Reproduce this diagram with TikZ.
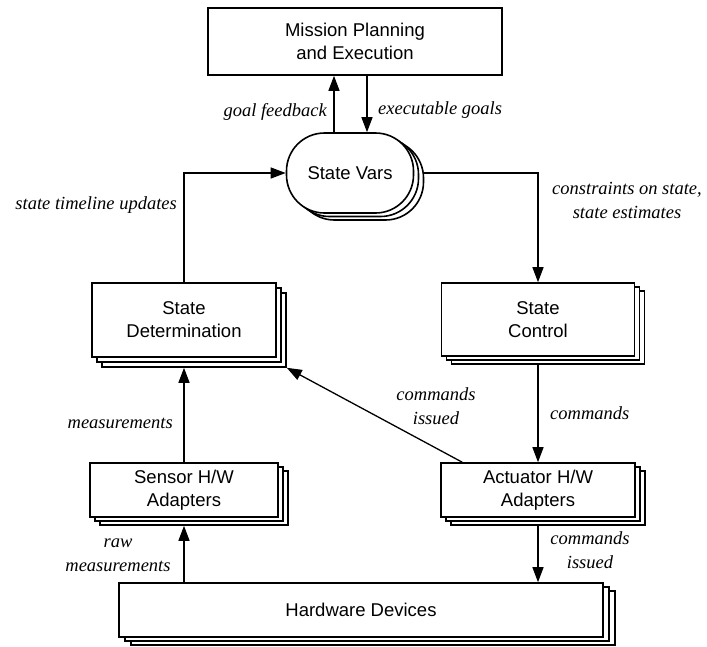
\documentclass[tikz,border=0pt]{standalone}
\usepackage{fontspec}
\setmainfont{Liberation Serif}
\setsansfont{Liberation Sans}
\usetikzlibrary{arrows.meta,shadows}
\begin{document}
\begin{tikzpicture}[x=1pt,y=-1pt,
  box/.style={draw=black, line width=1.6pt, fill=white, align=center, inner sep=0pt,
    font=\sffamily\fontsize{18.5}{23}\selectfont},
  sh/.style={draw=black, fill=white, line width=1.6pt},
  stack/.style args={#1/#2}{box,
    copy shadow={shadow xshift=2*#1, shadow yshift=-2*#2, sh},
    copy shadow={shadow xshift=#1, shadow yshift=-#2, sh}},
  conn/.style={line width=1.3pt, -{Triangle[length=15pt,width=11pt]}},
  lbl/.style={font=\itshape\fontsize{18.5}{24}\selectfont, inner sep=0pt, align=center},
]
\fill[white] (0,0) rectangle (707,646);
\useasboundingbox (0,0) rectangle (707,646);

% components
\node[box, minimum width=294pt, minimum height=67pt] (mission) at (355,41.5)
  {Mission Planning\\and Execution};
\node[stack=5pt/3.5pt, rounded corners=38pt, minimum width=127pt, minimum height=80pt]
  (sv) at (350,173) {State Vars};
\node[stack=5pt/5pt, minimum width=184pt, minimum height=74pt] (sd) at (184,320)
  {State\\Determination};
\node[stack=5pt/4pt, minimum width=193pt, minimum height=73pt] (sc) at (538,319.5)
  {State\\Control};
\node[stack=5pt/4pt, minimum width=188pt, minimum height=54pt] (sensor) at (184,490)
  {Sensor H/W\\Adapters};
\node[stack=5pt/4pt, minimum width=194pt, minimum height=54pt] (act) at (538,490)
  {Actuator H/W\\Adapters};
\node[stack=6pt/4pt, minimum width=484pt, minimum height=54pt] (hd) at (361,610)
  {Hardware Devices};

% helper points
\coordinate (gf) at (334,0);
\coordinate (eg) at (367,0);
\coordinate (svr) at ([xshift=9pt]sv.east);
\coordinate (sdb) at ([xshift=10pt,yshift=-10pt]sd.south east);
\coordinate (sdbot) at ([yshift=-10pt]sd.south);
\coordinate (scbot) at ([yshift=-8pt]sc.south);
\coordinate (senbot) at ([yshift=-8pt]sensor.south);
\coordinate (actbot) at ([yshift=-8pt]act.south);
\coordinate (acttop) at ([xshift=22pt]act.north west);

% connectors
\draw[conn] (gf |- sv.north) -- (gf |- mission.south);
\draw[conn] (eg |- mission.south) -- (eg |- sv.north);
\draw[conn] (sd.north) |- (sv.west);
\draw[conn] (svr) -| (sc.north);
\draw[conn] (scbot) -- (act.north);
\draw[conn] (sensor.north) -- (sdbot);
\draw[conn] (acttop) -- (sdb);
\draw[conn] (hd.north -| sensor.south) -- (senbot);
\draw[conn] (actbot) -- (hd.north -| act.south);

% labels
\node[lbl, anchor=east] (lgf) at (327,112) {goal feedback};
\node[lbl, anchor=west] (leg) at (378,110) {executable goals};
\node[lbl, anchor=east] (lstu) at (177,205) {state timeline updates};
\node[lbl] (lcs) at (627,200) {constraints on state,\\state estimates};
\node[lbl, anchor=east] (lmeas) at (173,423) {measurements};
\node[lbl] (lci) at (436,406) {commands\\issued};
\node[lbl, anchor=west] (lcmd) at (550,413) {commands};
\node[lbl] (lraw) at (118,555) {raw\\measurements};
\node[lbl] (lci2) at (590,550) {commands\\issued};
\end{tikzpicture}
\end{document}
